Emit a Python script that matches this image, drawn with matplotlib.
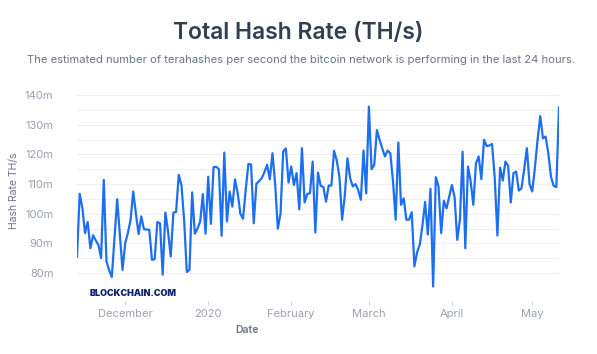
import matplotlib
matplotlib.use("Agg")
import matplotlib.pyplot as plt
from matplotlib.ticker import MultipleLocator, FuncFormatter
import pandas as pd

plt.rcParams['font.family'] = ['Inter', 'DejaVu Sans']

# daily values, first day 2019-11-13
start_day = "2019-11-13"
hash_rate = [
    85.6, 106.7, 102, 93.5, 97.2, 88.4, 92.8, 91, 89.5, 85.1,
    111.4, 84, 81, 78.7, 92, 104.9, 93, 81.1, 90.1, 93.5,
    98, 107.5, 100, 93.2, 99.1, 94.8, 94.7, 94.6, 84.5, 84.7,
    97.2, 96.8, 79.5, 100.4, 94, 85.6, 100.4, 100.6, 113.1, 109.7,
    98, 80.4, 81.1, 107.2, 93.3, 95, 97.4, 106.6, 93.3, 112.5,
    96.6, 115.7, 115.8, 115, 92.6, 120.6, 97.4, 107.5, 102.4, 111.6,
    107, 100, 98.3, 108, 116.8, 116.6, 96.8, 110.1, 111, 112,
    114, 116.5, 111.6, 120.4, 110, 95, 100, 121, 122, 110.5,
    115.9, 109.7, 113.7, 101.5, 122.1, 103.8, 106.7, 106.9, 117.6, 93.7,
    113.9, 109.4, 109, 104.1, 109.5, 109.5, 121.2, 118, 112.5, 98,
    106, 118.7, 112, 109.2, 110, 108, 104.7, 121.3, 106.9, 136.1,
    115, 116.5, 128.2, 124.9, 122, 119.3, 121.3, 120.4, 111, 98,
    124, 103, 105.2, 98, 98, 100.5, 82.3, 87, 89.6, 96,
    104, 93, 108.4, 75.5, 112.3, 109.2, 93.5, 104.4, 101.8, 105.8,
    109.7, 105.7, 91.2, 98, 120.9, 88.4, 115.9, 111, 103, 117,
    119.3, 111.7, 124.9, 122.8, 123, 123.5, 112, 92.7, 115.5, 111.2,
    117.6, 116.1, 103.8, 113.7, 114.2, 107.8, 108.6, 115, 122.1, 110,
    107.5, 115.5, 124.9, 132.9, 125.4, 126, 120.4, 112.5, 109.4, 109,
    135.8,
]
tick_dates = ["2019-12-01", "2020-01-01", "2020-02-01", "2020-03-01", "2020-04-01", "2020-05-01"]
tick_labels = ["December", "2020", "February", "March", "April", "May"]

dates = pd.date_range(start_day, periods=len(hash_rate), freq="D")

fig = plt.figure(figsize=(5.97, 3.54), dpi=100)
ax = fig.add_axes([77 / 597, 1 - 288 / 354, 482 / 597, 193 / 354])

ax.plot(dates, hash_rate, color="#1d6ff2", lw=1.6, solid_joinstyle="round")

ax.set_xlim(dates[0], dates[-1])
ax.set_ylim(75, 140)
ax.yaxis.set_major_locator(MultipleLocator(10))
ax.yaxis.set_minor_locator(MultipleLocator(5))
ax.yaxis.set_major_formatter(FuncFormatter(lambda v, p: "" if v < 80 else "%dm" % v))
ax.grid(which="both", axis="y", color="#eeeff2", lw=0.8)
ax.set_axisbelow(True)
for s in ax.spines.values():
    s.set_visible(False)
ax.spines["bottom"].set_position(("outward", 9))
ax.tick_params(axis="y", which="both", length=0, pad=17, labelsize=8, labelcolor="#9aa1b0")
ax.tick_params(axis="x", length=3, width=0.7, color="#c8ccd4", pad=3, labelsize=8, labelcolor="#9aa1b0")
ax.set_xticks(pd.to_datetime(tick_dates))
ax.set_xticklabels(tick_labels)

fig.text(0.5, 1 - 33 / 354, "Total Hash Rate (TH/s)", ha="center", va="center",
         fontsize=16.5, fontweight="semibold", color="#353f52")
fig.text(27 / 597, 1 - 60 / 354,
         "The estimated number of terahashes per second the bitcoin network is performing in the last 24 hours.",
         ha="left", va="center", fontsize=8.1, color="#6b7385")
fig.text(14 / 597, 1 - 191 / 354, "Hash Rate TH/s", rotation=90, ha="center", va="center",
         fontsize=7.5, color="#6b7385")
fig.text(247 / 597, 1 - 330 / 354, "Date", ha="center", va="center",
         fontsize=7.5, fontweight="semibold", color="#6b7385")
fig.text(90 / 597, 1 - 294 / 354, "BLOCKCHAIN.COM", ha="left", va="center",
         fontsize=6.5, fontweight="black", color="#13256b")

fig.savefig("out.png", dpi=100, facecolor="white")
